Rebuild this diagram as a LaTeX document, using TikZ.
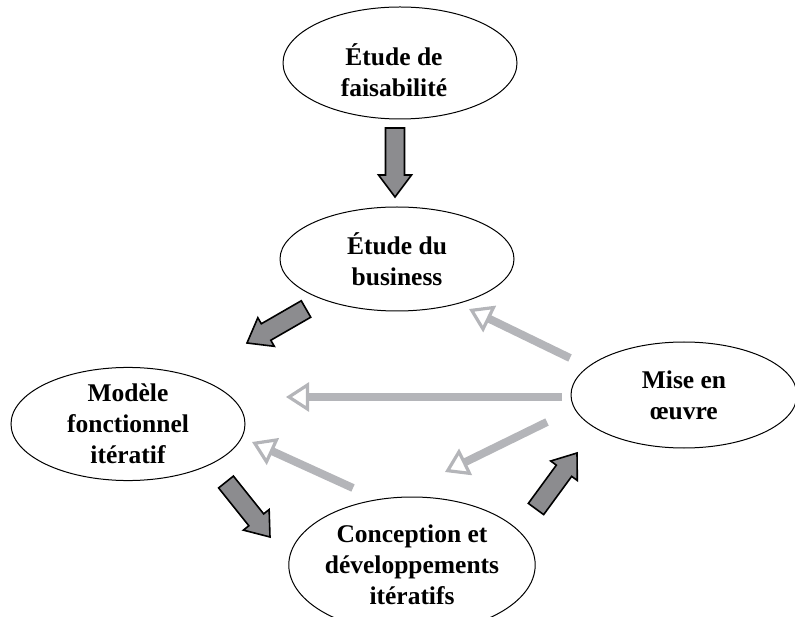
\documentclass[tikz,border=0pt]{standalone}
\usepackage{fontspec}
\setmainfont{Liberation Serif}
\usetikzlibrary{shapes.geometric,arrows.meta,calc}
\definecolor{lightarr}{HTML}{B4B5B9}
\definecolor{darkarr}{HTML}{8C8C8F}
\newcommand\blockarrow[2]{%
  \draw[blockarr]
    ($(#1)!9.5pt!90:(#2)$) --
    ($($(#2)!22pt!(#1)$)!9.5pt!-90:(#1)$) --
    ($($(#2)!22pt!(#1)$)!16.5pt!-90:(#1)$) --
    (#2) --
    ($($(#2)!22pt!(#1)$)!16.5pt!90:(#1)$) --
    ($($(#2)!22pt!(#1)$)!9.5pt!90:(#1)$) --
    ($(#1)!9.5pt!-90:(#2)$) -- cycle;}
\begin{document}
\begin{tikzpicture}[x=1pt,y=-1pt,
  phasetext/.style={align=center,font=\fontsize{25.5}{31}\selectfont\bfseries},
  phase/.style={ellipse,draw=black,line width=1pt,inner sep=0pt,phasetext},
  blockarr/.style={fill=darkarr,draw=black,line width=1.6pt,line join=miter},
  loop/.style={draw=lightarr,line width=8pt,
    -{Triangle[open,length=23pt,width=29pt,line width=3.2pt]}}]
\useasboundingbox (0,0) rectangle (795,617);
\node[phase,minimum width=234pt,minimum height=112pt,
  label={[phasetext,xshift=-6pt,yshift=-7pt]center:Étude de\\faisabilité}] (fea) at (400,63) {};
\node[phase,minimum width=234pt,minimum height=104pt] (bus) at (397,259) {Étude du\\business};
\node[phase,minimum width=234pt,minimum height=106pt] (mod) at (128,424) {Modèle\\fonctionnel\\itératif};
\node[phase,minimum width=226pt,minimum height=106pt] (mis) at (684,395) {Mise en\\œuvre};
\node[phase,minimum width=234pt,minimum height=136pt] (con) at (412,565) {Conception et\\développements\\itératifs};
% dark block arrows
\coordinate (a1) at (395,128); \coordinate (a2) at (395,197);
\coordinate (b1) at (306,309); \coordinate (b2) at (247,343);
\coordinate (c1) at (226,482); \coordinate (c2) at (270,537);
\coordinate (d1) at (536,509); \coordinate (d2) at (577,453);
\blockarrow{a1}{a2}
\blockarrow{b1}{b2}
\blockarrow{c1}{c2}
\blockarrow{d1}{d2}
% light return arrows
\coordinate (e1) at (570,358); \coordinate (e2) at (469,309);
\coordinate (f1) at (562,397); \coordinate (f2) at (286,397);
\coordinate (g1) at (547,422); \coordinate (g2) at (445,472);
\coordinate (h1) at (353,488); \coordinate (h2) at (252,442);
\draw[loop] (e1) -- (e2);
\draw[loop] (f1) -- (f2);
\draw[loop] (g1) -- (g2);
\draw[loop] (h1) -- (h2);
\end{tikzpicture}
\end{document}
